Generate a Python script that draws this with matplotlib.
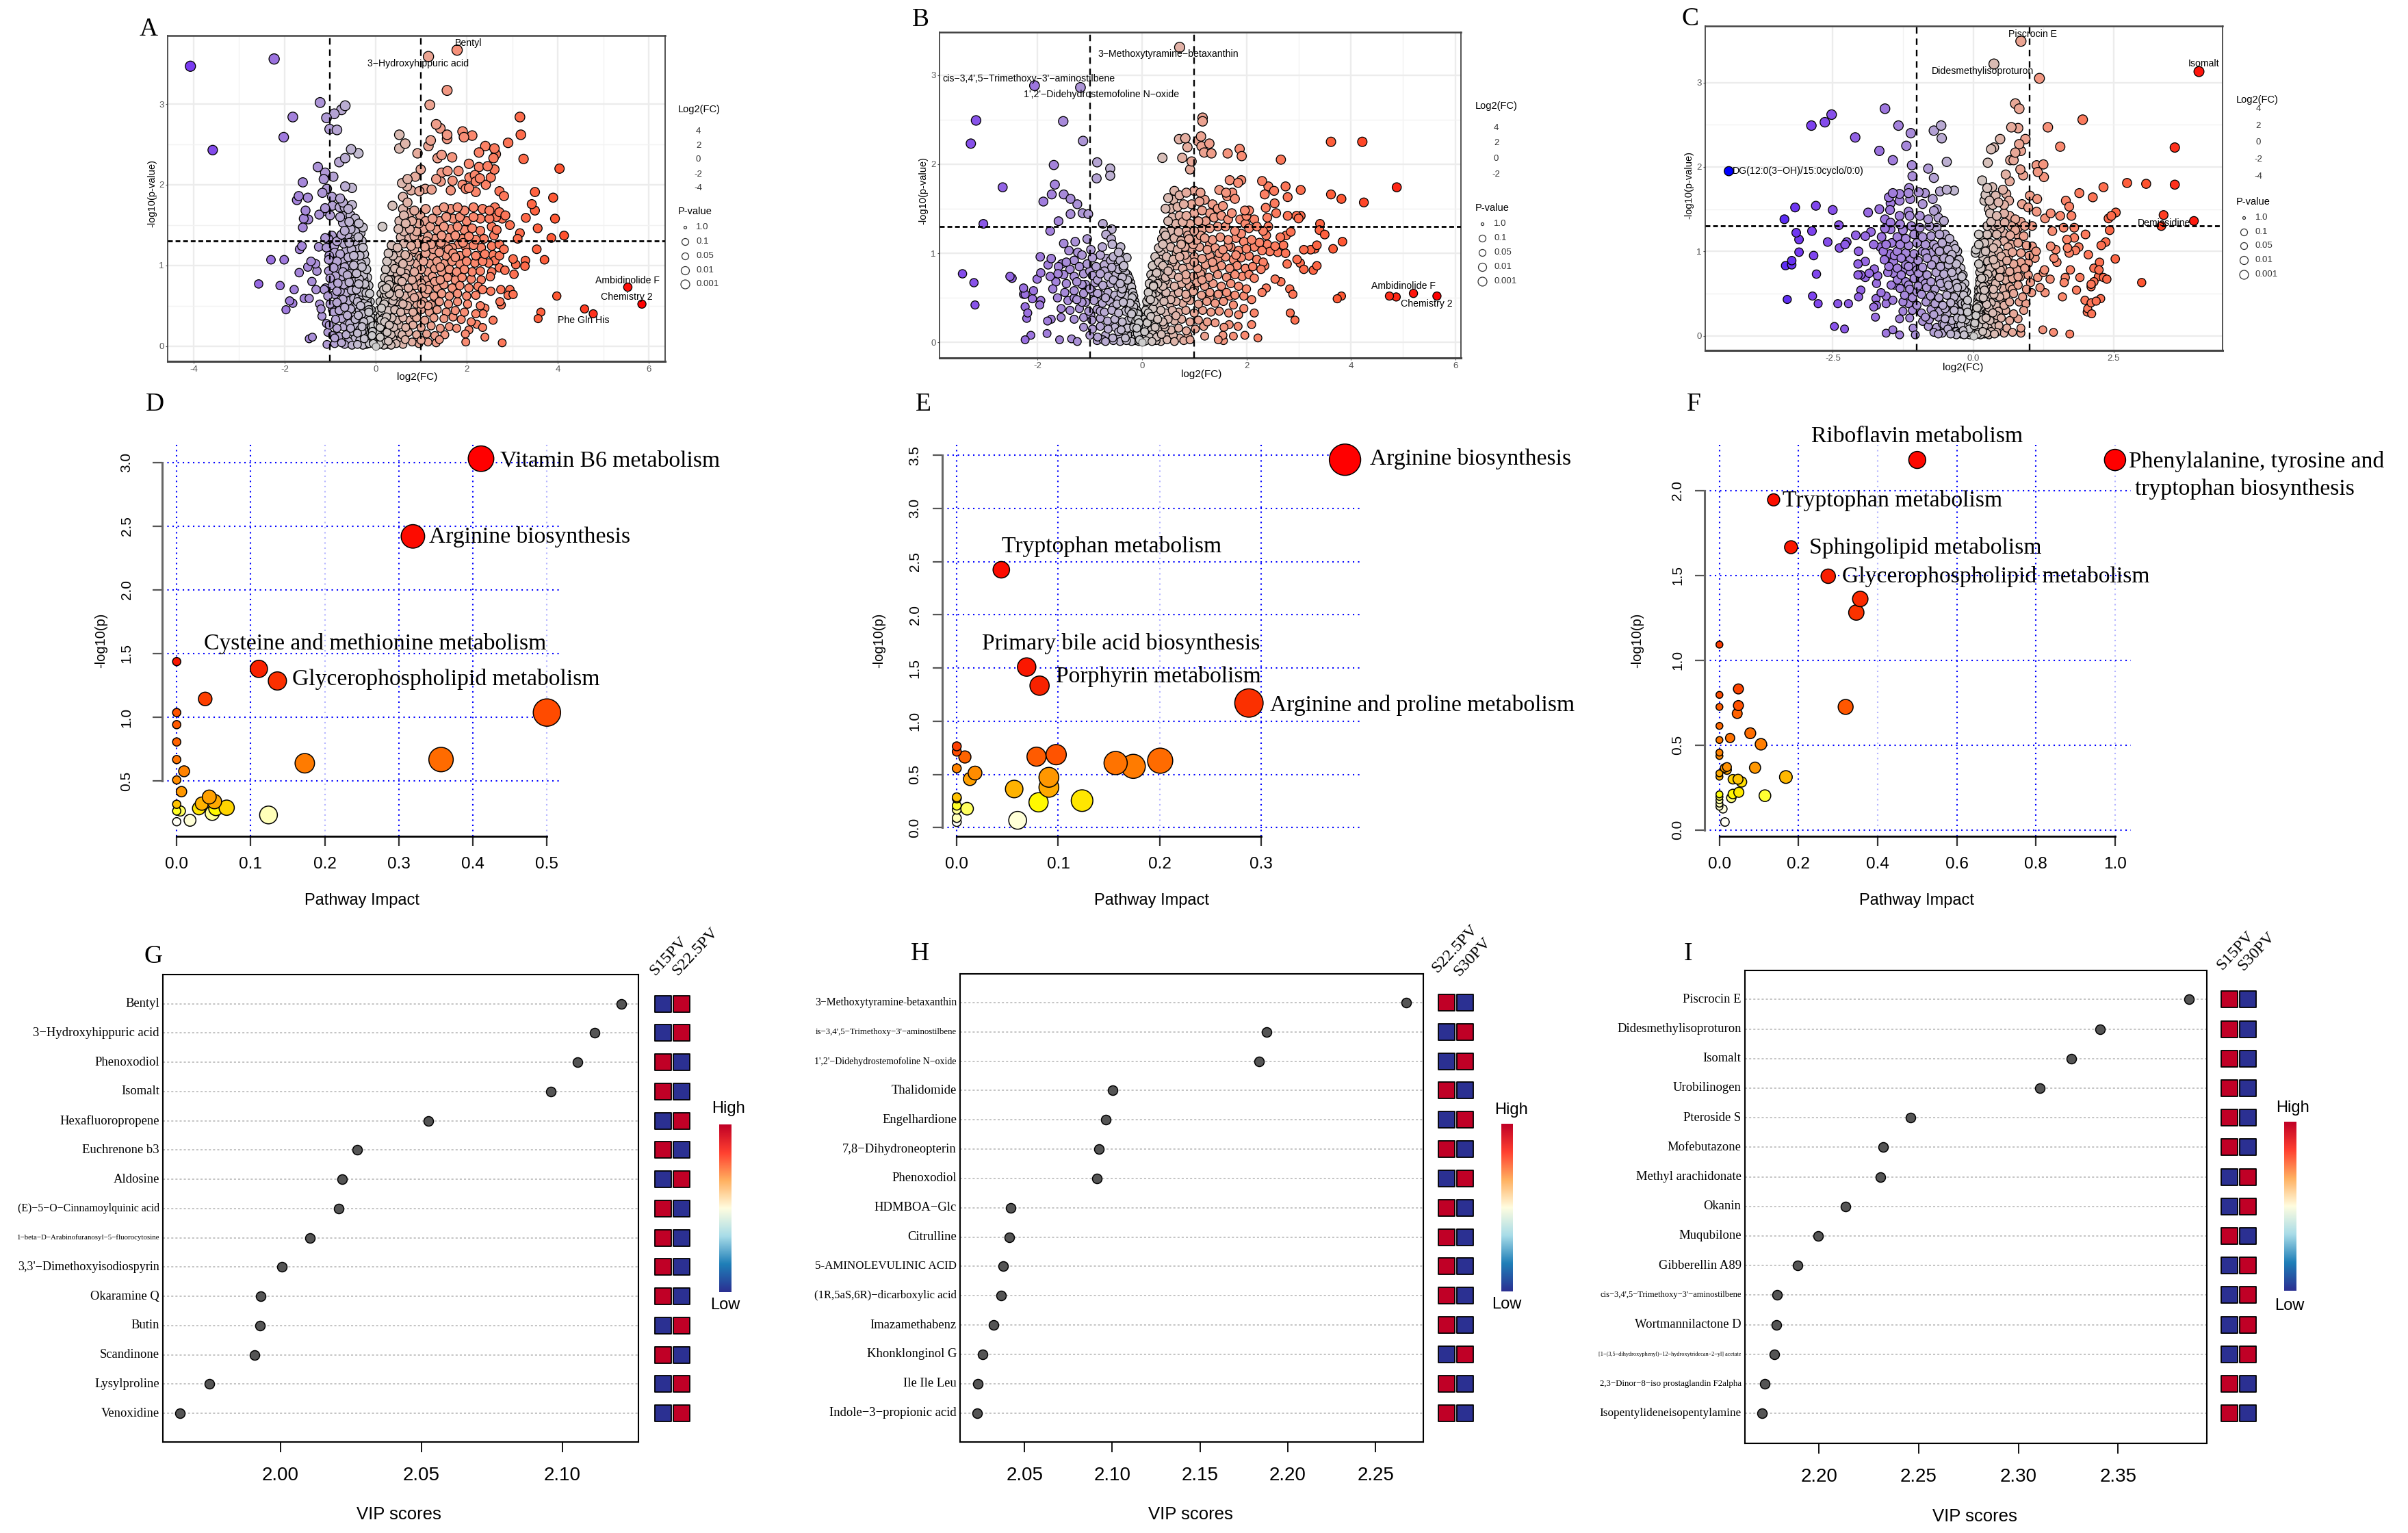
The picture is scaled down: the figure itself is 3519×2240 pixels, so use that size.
import numpy as np
import matplotlib
matplotlib.use('Agg')
import matplotlib.pyplot as plt
from matplotlib.colors import LinearSegmentedColormap

W, H = 3519, 2240
plt.rcParams['axes.unicode_minus'] = False
SERIF = ['Liberation Serif', 'DejaVu Serif']
SANS = ['Liberation Sans', 'DejaVu Sans']
NARROW = SANS

# ---------- volcano values: flat x,y pairs ----------
a_outer = [-4.07,3.47,-2.23,3.56,-3.58,2.43,1.79,3.67,1.16,3.59,1.57,3.17,1.19,2.99,-1.22,3.02,-.67,2.98,-.75,2.93,-.91,2.88,-1.82,2.84,-1.08,2.83,-1.01,2.69,-.85,2.68,-2.02,2.59,-.54,2.44,-.38,2.39,-.67,2.33,-.8,2.28,-1.27,2.22,-1.11,2.15,-.93,2.1,-1.14,2.07,-1.6,2.03,-.67,1.98,-.52,1.96,-1.07,1.95,-1.17,1.9,
3.17,2.84,3.19,2.62,3.25,2.32,4.04,2.2,1.33,2.75,1.42,2.7,1.57,2.62,1.57,2.57,1.91,2.66,1.94,2.59,2.12,2.61,1.21,2.55,1.16,2.48,.52,2.62,.65,2.51,.52,2.45,.92,2.39,2.91,2.52,2.41,2.48,2.61,2.45,2.27,2.4,2.64,2.38,2.59,2.33,1.45,2.37,1.36,2.33,1.68,2.34,2.05,2.26,2.27,2.22,2.46,2.23,2.61,2.19,2.53,2.09,.99,2.19,1.45,2.15,1.58,2.17,1.82,2.17,2.18,2.12,2.06,2.09,2.29,2.08,2.2,2.04,2.42,2.0,1.33,2.07,1.43,2.04,1.69,2.05,1.91,2.0,2.05,1.96,2.2,1.91,.58,2.02,.7,2.07,.87,2.1,.69,1.98,.78,1.93,.96,1.92,1.09,1.95,1.23,1.94,1.65,1.93,1.98,1.95,
2.72,1.92,2.82,1.86,3.5,1.91,3.9,1.84,3.43,1.76,3.5,1.68,3.94,1.58,3.3,1.59,3.56,1.46,3.17,1.4,3.12,1.33,3.86,1.34,4.14,1.37,3.54,1.2,3.71,1.07,3.29,1.06,3.28,.99,3.02,1.08,3.08,1.01,2.84,.94,3.04,.89,2.72,.97,5.54,.73,5.85,.52,3.98,.62,4.59,.46,4.78,.4,3.63,.42,3.57,.34,2.75,.7,2.53,.68,2.95,.7,3.02,.64,2.91,.63,2.73,.55,2.76,.51,2.58,.32,2.35,.23,2.4,.11,2.78,.04,1.98,.05,1.97,.15,
-1.69,1.86,-1.73,1.81,-1.49,1.84,-1.54,1.68,-1.58,1.58,-1.48,1.57,-1.6,1.47,-1.24,1.63,-1.08,1.67,-1,1.62,-1.11,1.71,-.96,1.85,-.95,1.74,-.79,1.72,-1.11,1.34,-.96,1.37,-1.04,1.33,-1.25,1.23,-1.08,1.22,-1.62,1.24,-1.67,1.2,-.91,1.24,-2.3,1.07,-2.01,1.07,-1.42,1.05,-1.32,1.02,-1.49,.98,-1.29,.93,-1.68,.91,-1.4,.8,-2.57,.77,-2.1,.75,-1.79,.7,-1.31,.7,-1.89,.56,-1.82,.53,-1.57,.59,-1.46,.59,-1.97,.45,-1.23,.52,-1.2,.46,-1.18,.37,-1.08,.28,-1.02,.26,-1.05,.17,-1.46,.09,-1.39,.11,-1.07,.02]
a_right = [.6,1.85,.7,1.78,.37,1.74,.6,1.7,.62,1.62,.75,1.65,.85,1.68,.98,1.62,1.1,1.7,1.35,1.68,1.5,1.72,1.65,1.7,1.8,1.72,1.95,1.68,2.15,1.72,2.35,1.7,2.5,1.68,2.62,1.72,2.72,1.66,.52,1.55,.66,1.52,.8,1.55,.95,1.52,1.1,1.55,1.25,1.58,1.4,1.55,1.55,1.6,1.7,1.58,1.85,1.6,2.0,1.55,2.15,1.6,2.3,1.58,2.5,1.58,2.65,1.6,2.85,1.62,2.78,1.58,2.95,1.5,.5,1.45,.15,1.48,.62,1.42,.75,1.45,.9,1.42,1.05,1.45,1.2,1.48,1.35,1.44,1.5,1.48,1.65,1.45,1.8,1.48,1.95,1.44,2.12,1.46,2.3,1.43,2.55,1.48,2.66,1.44,.55,1.35,.7,1.33,.85,1.36,1.0,1.32,1.15,1.36,1.3,1.33,1.45,1.37,1.6,1.34,1.75,1.37,1.9,1.33,2.05,1.36,2.2,1.32,2.38,1.33,2.6,1.37,.35,1.25,.48,1.22,.62,1.27,.78,1.24,.92,1.27,1.08,1.23,1.22,1.26,1.38,1.23,1.52,1.26,1.68,1.22,1.82,1.26,1.98,1.23,2.15,1.25,2.32,1.22,2.55,1.24,2.72,1.26,2.82,1.2,
.28,1.15,.38,1.12,.52,1.16,.65,1.13,.8,1.16,.95,1.12,1.1,1.15,1.25,1.12,1.4,1.16,1.55,1.12,1.7,1.15,1.85,1.12,2.0,1.16,2.2,1.12,2.4,1.14,2.58,1.13,2.72,1.12,.25,1.05,.35,1.02,.48,1.05,.6,1.02,.75,1.05,.9,1.02,1.05,1.05,1.2,1.02,1.35,1.05,1.5,1.02,1.68,1.05,1.85,1.02,2.0,1.05,2.18,1.03,2.35,1.05,2.48,1.03,2.62,1.06,.22,.95,.32,.92,.42,.96,.55,.93,.7,.96,.85,.92,1.0,.95,1.15,.92,1.3,.96,1.45,.92,1.62,.95,1.78,.92,1.95,.95,2.12,.92,2.3,.93,2.55,.92,.2,.85,.28,.82,.38,.85,.5,.82,.65,.85,.8,.82,.95,.85,1.1,.82,1.25,.86,1.42,.82,1.58,.85,1.75,.82,1.9,.85,2.1,.83,2.32,.82,2.52,.86,.15,.75,.24,.72,.34,.75,.45,.72,.58,.75,.72,.72,.88,.75,1.02,.72,1.18,.75,1.35,.72,1.5,.76,1.68,.72,1.85,.75,2.05,.72,2.25,.74,2.35,.7,
.12,.65,.2,.62,.3,.65,.4,.62,.52,.65,.65,.62,.8,.65,.95,.62,1.1,.65,1.28,.62,1.45,.65,1.62,.62,1.8,.65,2.0,.62,2.2,.63,.1,.55,.18,.52,.26,.55,.36,.52,.48,.55,.6,.52,.75,.55,.9,.52,1.05,.55,1.22,.52,1.4,.55,1.6,.52,1.8,.55,2.02,.52,2.3,.5,2.4,.47,.08,.45,.14,.42,.22,.45,.32,.42,.42,.45,.55,.42,.68,.45,.82,.42,1.0,.45,1.18,.42,1.35,.45,1.55,.42,1.75,.44,1.95,.42,2.2,.4,2.36,.4,.06,.35,.12,.32,.18,.35,.26,.32,.36,.35,.48,.32,.6,.35,.75,.32,.9,.35,1.08,.32,1.28,.35,1.5,.34,1.7,.36,1.88,.33,2.1,.3,2.22,.27,.05,.26,.1,.23,.15,.26,.22,.23,.3,.26,.4,.23,.52,.26,.66,.23,.82,.26,1.0,.23,1.22,.25,1.42,.22,1.62,.24,1.78,.22,2.05,.2,.03,.17,.07,.14,.12,.17,.18,.14,.25,.17,.34,.14,.45,.17,.58,.14,.72,.17,.9,.14,1.12,.15,1.3,.13,1.52,.14,1.4,.08,.02,.09,.05,.06,.09,.09,.14,.06,.2,.09,.28,.06,.38,.09,.5,.06,.65,.08,.8,.05,1.0,.07,1.15,.05,1.33,.04,.01,.03,.04,.01,.08,.02,.12,.03,.18,.01,.25,.02,.34,.01,.45,.03,.6,.02,.95,.03,
.04,.12,.06,.2,.08,.3,.1,.37,.13,.47,.16,.58,.18,.7,.06,.1,.1,.16,.14,.24,.19,.34,.24,.4,.28,.5,.33,.6,.38,.7,.43,.8,.48,.9]
a_left = [-.78,1.83,-.72,1.78,-.68,1.72,-.6,1.7,-.52,1.75,-.55,1.62,-.66,1.62,-.78,1.6,-.45,1.58,-.58,1.54,-.72,1.53,-.47,1.5,-.37,1.52,-.28,1.47,-.33,1.4,-.45,1.42,-.55,1.45,-.68,1.43,-.75,1.38,-.62,1.38,-.5,1.36,-.38,1.35,-.3,1.3,-.45,1.3,-.58,1.28,-.7,1.27,-.85,1.3,-.28,1.22,-.4,1.22,-.53,1.2,-.65,1.18,-.78,1.14,-.9,1.16,-1.02,1.12,-.25,1.14,-.35,1.12,-.48,1.12,-.6,1.1,-.72,1.07,-.85,1.05,-.97,1.05,-1.03,1.07,-.22,1.05,-.32,1.02,-.43,1.03,-.55,1.0,-.68,.98,-.8,.96,-.92,.97,-1.03,.93,-.2,.95,-.3,.92,-.4,.93,-.5,.9,-.62,.88,-.75,.86,-.88,.87,-1.0,.84,-.18,.85,-.26,.82,-.36,.83,-.46,.8,-.58,.79,-.7,.76,-.83,.78,-.95,.75,-1.1,.72,-.15,.75,-.23,.72,-.32,.73,-.42,.7,-.53,.69,-.65,.66,-.78,.68,-.9,.64,-1.05,.62,-1.13,.7,-.13,.65,-.2,.62,-.28,.63,-.37,.6,-.48,.59,-.6,.56,-.72,.58,-.85,.54,-1.0,.52,-.12,.55,-.18,.52,-.25,.53,-.33,.5,-.43,.49,-.55,.46,-.68,.48,-.8,.44,-.92,.42,-.1,.45,-.15,.42,-.22,.43,-.3,.4,-.38,.38,-.5,.36,-.62,.38,-.75,.34,-.88,.33,-.08,.35,-.13,.32,-.19,.33,-.26,.3,-.34,.28,-.45,.26,-.57,.28,-.7,.24,-.85,.22,-.06,.25,-.1,.22,-.16,.23,-.22,.2,-.3,.18,-.4,.16,-.52,.18,-.65,.14,-.8,.12,-.95,.13,-.04,.16,-.08,.13,-.13,.14,-.18,.11,-.25,.09,-.35,.07,-.46,.09,-.6,.06,-.75,.04,-.9,.03,-.02,.08,-.05,.05,-.09,.06,-.14,.03,-.2,.02,-.28,.01,-.4,.02,-.52,.01,-.68,.02,-.02,.02]
a_core = [.03,.06,.05,.1,.07,.16,.09,.22,.11,.28,.13,.34,.15,.4,.17,.46,.19,.52,.22,.58,.24,.64,.27,.7,.3,.76,.33,.82,.36,.88,.4,.94,.44,1.0,.5,1.08,.07,.05,.1,.11,.13,.17,.16,.27,.2,.3,.24,.36,.28,.44,.33,.48,.38,.56,.44,.6,.5,.7,.58,.8,.66,.9,.72,1.1,.85,1.2,1.0,1.09,1.12,1.3,1.27,1.2,1.43,1.28,1.6,1.2,1.75,1.1,1.92,1.28,1.42,.98,1.6,.88,1.3,.8,1.15,.7,1.0,.78,.85,.6,.7,.5,.85,.38,1.0,.52,1.15,.5,1.3,.6,-.03,.06,-.05,.11,-.07,.18,-.09,.24,-.11,.3,-.13,.37,-.15,.45,-.17,.5,-.19,.57,-.21,.66,-.24,.77,-.27,.88,-.3,.98,-.05,.03,-.08,.09,-.11,.16,-.14,.2,-.17,.27,-.21,.36,-.24,.47,-.28,.55,-.32,.67,-.37,.77,-.42,.9,-.48,1.0,-.57,.94,-.48,.72,-.4,.55,-.36,.44,-.45,.33,-.3,.24,-.35,.2,-.55,.22,-.65,.32,-.75,.5,-.6,.75,-.72,.92,-.85,.68,-.95,.45,-.9,.1]

b_outer = [.72,3.31,-2.06,2.88,-1.18,2.86,-3.18,2.49,-1.51,2.48,1.16,2.52,1.16,2.48,-3.28,2.23,-1.13,2.26,.71,2.28,.83,2.29,1.13,2.31,1.07,2.26,1.29,2.23,.87,2.19,1.14,2.2,1.19,2.13,1.33,2.12,1.64,2.12,1.87,2.17,1.91,2.09,.39,2.07,.77,2.07,.95,2.03,.92,1.94,2.66,2.05,3.62,2.25,4.22,2.25,-1.69,1.99,-.86,2.02,-.61,1.95,-.61,1.87,-.87,1.84,-2.67,1.74,-1.67,1.77,-1.73,1.66,-1.5,1.66,-1.89,1.58,-1.37,1.61,-1.24,1.55,-1.37,1.44,-1.14,1.45,-1.03,1.44,-1.6,1.36,-.75,1.33,-3.04,1.33,-1.76,1.25,-.58,1.27,-.69,1.21,-.59,1.16,-1.05,1.16,-1.28,1.13,-1.5,1.11,-.76,1.07,-.57,1.1,-.41,1.07,-.98,1.04,-1.4,1.03,-1.23,1.01,-.45,1.01,-1.95,.96,-1.74,.94,-.29,.95,-1.8,.87,-1.54,.88,
-3.44,.77,-3.22,.67,-3.2,.42,-2.53,.74,-2.49,.72,-2.01,.71,-1.94,.78,-2.27,.61,-2.08,.58,-2.27,.54,-2.24,.54,-2.1,.49,-1.94,.47,-1.96,.42,-2.24,.4,-2.19,.33,-2.21,.27,-1.81,.24,-1.74,.26,-2.24,.03,-2.13,.08,-1.82,.1,-1.58,.03,-1.35,.04,-1.24,.01,-1.71,.6,-1.76,.74,-1.61,.77,
4.88,1.74,3.62,1.66,3.82,1.61,4.25,1.57,3.04,1.71,2.75,1.75,2.79,1.63,2.3,1.81,2.42,1.75,2.53,1.7,2.35,1.66,2.54,1.56,2.37,1.51,2.57,1.45,2.4,1.4,2.79,1.42,2.96,1.42,3.04,1.42,3,1.39,3.41,1.33,3.4,1.26,3.5,1.21,3.84,1.13,3.66,1.05,3.35,1.09,3.1,1.04,3.23,1.04,3.31,1.05,2.97,.93,3.03,.89,3.35,.86,3.28,.81,3.1,.82,2.78,.88,2.85,1.24,2.76,1.2,2.65,1.18,2.71,1.09,2.75,1.0,4.74,.52,4.87,.51,5.2,.55,5.65,.52,3.74,.49,3.82,.52,2.55,.71,2.66,.68,2.83,.6,2.89,.54,2.84,.33,2.93,.25,2.38,.61,2.3,.56,2.22,.05,2.1,.2,1.97,.08,1.75,.07,1.55,.08,1.46,.03,1.56,.02,1.84,.18,1.57,.17,1.67,.2,2.15,.33,1.68,.52,1.68,1.82,1.84,1.79,1.9,1.82,1.48,1.71,1.61,1.68,1.73,1.68,1.63,1.64,1.78,1.61,1.97,1.48,2.05,1.48]
b_right = [.62,1.7,.5,1.62,.6,1.6,.72,1.65,.85,1.68,1.0,1.7,1.12,1.68,1.2,1.6,1.1,1.58,.95,1.55,.8,1.55,.68,1.52,.55,1.5,.45,1.5,1.35,1.55,1.45,1.5,1.55,1.53,1.3,1.45,1.15,1.48,1.0,1.45,.85,1.42,.72,1.42,.58,1.4,.5,1.36,.65,1.33,.78,1.35,.92,1.33,1.08,1.36,1.22,1.36,1.38,1.4,1.52,1.42,1.65,1.38,1.72,1.45,1.6,1.3,1.45,1.3,1.3,1.28,1.15,1.27,1.0,1.25,.85,1.25,.7,1.24,.55,1.25,.42,1.24,1.98,1.33,1.88,1.38,2.0,1.42,2.15,1.38,2.05,1.28,2.2,1.3,2.32,1.25,2.38,1.2,2.42,1.3,1.78,1.25,1.9,1.22,
.38,1.16,.5,1.14,.62,1.17,.75,1.14,.9,1.16,1.05,1.15,1.2,1.17,1.35,1.15,1.5,1.18,1.65,1.15,1.8,1.17,1.95,1.13,2.1,1.15,2.25,1.12,2.4,1.1,2.55,1.08,.32,1.06,.42,1.04,.55,1.07,.68,1.04,.82,1.07,.96,1.05,1.1,1.07,1.25,1.04,1.4,1.06,1.55,1.04,1.7,1.07,1.85,1.03,2.0,1.05,2.15,1.07,2.3,1.03,2.45,1.02,2.6,1.01,.25,.96,.35,.93,.47,.96,.6,.93,.72,.96,.86,.93,1.0,.96,1.15,.94,1.3,.97,1.45,.93,1.6,.96,1.75,.93,1.9,.95,2.05,.97,2.2,.93,2.32,.9,.2,.86,.3,.83,.4,.86,.52,.83,.65,.86,.78,.83,.92,.86,1.06,.83,1.22,.87,1.38,.83,1.52,.86,1.68,.83,1.82,.86,1.98,.83,2.12,.85,2.28,.82,2.35,.86,.17,.76,.25,.73,.34,.76,.45,.73,.57,.76,.7,.73,.84,.76,.98,.74,1.12,.77,1.28,.73,1.45,.76,1.62,.73,1.78,.76,1.92,.74,2.05,.76,2.15,.72,
.14,.66,.22,.63,.3,.66,.4,.63,.5,.66,.62,.63,.76,.66,.9,.64,1.05,.67,1.2,.63,1.36,.66,1.52,.63,1.7,.66,1.85,.63,2.0,.6,.12,.56,.19,.53,.27,.56,.36,.53,.46,.56,.58,.53,.7,.56,.84,.54,.98,.57,1.14,.53,1.3,.56,1.46,.54,1.62,.56,1.78,.53,1.95,.52,2.1,.48,.09,.46,.15,.43,.23,.46,.32,.43,.42,.46,.53,.43,.65,.46,.78,.44,.92,.47,1.08,.43,1.24,.46,1.4,.44,1.56,.46,1.75,.42,1.95,.38,.07,.36,.12,.33,.19,.36,.27,.33,.36,.36,.46,.33,.58,.36,.7,.34,.84,.36,1.0,.33,1.16,.36,1.32,.34,1.48,.35,1.66,.33,1.85,.31,.05,.26,.1,.23,.15,.26,.22,.23,.3,.26,.4,.23,.5,.26,.62,.24,.76,.26,.92,.23,1.08,.25,1.25,.23,1.4,.22,.03,.17,.07,.14,.12,.17,.18,.14,.25,.17,.34,.14,.44,.17,.56,.14,.7,.16,.85,.13,1.02,.15,1.18,.18,.02,.09,.05,.06,.09,.09,.14,.06,.2,.09,.28,.06,.37,.09,.48,.06,.6,.08,.72,.05,.88,.08,1.2,.07,.01,.03,.04,.01,.08,.02,.13,.03,.19,.01,.27,.02,.36,.01,.48,.03,.62,.01,.8,.02,.92,.03,
.03,.11,.05,.2,.08,.3,.1,.4,.13,.5,.17,.6,.2,.7,.06,.13,.1,.22]
b_left = [-1.15,.98,-.95,.95,-.8,.98,-.68,.94,-.55,.96,-.42,.92,-1.3,.92,-1.45,.9,-1.6,.85,-1.38,.82,-1.2,.85,-1.05,.88,-.88,.85,-.72,.87,-.58,.84,-.45,.82,-.35,.86,-1.5,.76,-1.3,.74,-1.12,.77,-.95,.75,-.8,.77,-.65,.74,-.5,.76,-.38,.73,-.28,.76,-1.65,.68,-1.45,.66,-1.25,.68,-1.08,.65,-.9,.67,-.75,.64,-.6,.66,-.46,.63,-.33,.65,-.22,.67,-1.48,.56,-1.3,.58,-1.12,.55,-.95,.57,-.8,.54,-.65,.56,-.52,.53,-.4,.55,-.28,.52,-.18,.56,-1.62,.5,-1.42,.47,-1.25,.48,-1.08,.45,-.92,.47,-.76,.44,-.62,.46,-.48,.43,-.36,.45,-.24,.42,-.14,.46,-1.55,.38,-1.38,.36,-1.2,.38,-1.02,.35,-.86,.37,-.72,.34,-.58,.36,-.45,.33,-.32,.35,-.2,.32,-.1,.36,-1.55,.28,-1.3,.26,-1.12,.28,-.96,.25,-.8,.27,-.66,.24,-.52,.26,-.38,.23,-.26,.25,-.16,.22,-.08,.26,-1.12,.17,-.95,.15,-.8,.18,-.65,.15,-.52,.17,-.4,.14,-.28,.16,-.18,.13,-.1,.16,-.05,.18,-1.0,.08,-.85,.06,-.7,.08,-.56,.05,-.44,.07,-.32,.05,-.22,.07,-.14,.04,-.07,.07,-.03,.09,-.86,.02,-.7,.01,-.55,.02,-.42,.01,-.3,.02,-.2,.01,-.12,.02,-.06,.01,-.02,.03,-.03,.02,-.75,.03,-.04,.12,-.06,.22,-.08,.32,-.12,.42,-.16,.52,-.2,.62,-.25,.72,-.07,.14,-.12,.24,-.17,.34,-.23,.44]
b_core = [.03,.05,.05,.12,.07,.18,.09,.26,.11,.33,.13,.41,.16,.48,.19,.56,.22,.64,.25,.7,.28,.78,.32,.9,.36,1.0,.4,1.1,.45,1.2,.06,.07,.09,.15,.13,.2,.17,.29,.21,.38,.26,.43,.31,.51,.36,.6,.44,.69,.5,.8,.58,.9,.66,1.0,.75,1.1,.88,1.2,.82,.98,.98,1.1,1.12,1.2,1.3,1.1,1.48,1.0,1.65,1.08,1.8,.98,1.35,.9,1.15,.8,1.0,.9,.85,.7,.7,.6,.85,.5,1.0,.6,1.15,.7,1.3,.5,.55,.48,.65,.3,.42,.2,.3,.12,-.03,.05,-.05,.12,-.07,.18,-.1,.26,-.13,.34,-.16,.4,-.19,.5,-.22,.58,-.25,.64,-.28,.7,-.32,.78,-.36,.84,-.42,.98,-.05,.03,-.09,.1,-.13,.09,-.16,.17,-.2,.27,-.25,.36,-.3,.44,-.34,.52,-.38,.6,-.42,.66,-.5,.84,-.6,.92,-.72,.8,-.85,.7,-1.0,.8,-.55,.7,-.45,.48,-.55,.4,-.7,.5,-.85,.55,-1.0,.6,-1.15,.65,-1.3,.5,-1.15,.45,-.98,.3,-.8,.35,-.6,.2,-.45,.12,-.3,.1]

c_outer = [.85,3.49,.37,3.22,1.18,3.05,4.02,3.13,.75,2.75,.82,2.69,.68,2.47,.8,2.46,1.33,2.47,1.95,2.56,.48,2.33,.93,2.33,.82,2.27,.37,2.23,.32,2.21,.85,2.19,.75,2.17,1.55,2.24,3.59,2.23,.66,2.08,.72,2.08,.26,2.05,1.25,2.03,1.13,2.02,.84,1.97,1.15,1.94,.89,1.9,.58,1.91,1.26,1.88,.65,1.83,.16,1.84,2.74,1.81,3.08,1.8,3.59,1.79,2.32,1.76,1.89,1.69,2.13,1.64,1.65,1.6,1.71,1.53,1.01,1.66,1.14,1.62,.34,1.76,.25,1.75,.53,1.73,.22,1.67,.59,1.68,.4,1.66,.29,1.6,.64,1.6,.87,1.56,.98,1.52,1.13,1.47,2.54,1.46,2.46,1.42,2.41,1.39,3.39,1.43,3.93,1.36,3.35,1.3,1.38,1.45,1.55,1.42,1.75,1.42,1.28,1.39,1.8,1.28,1.61,1.28,1.41,1.24,2.43,1.25,2,1.2,1.67,1.14,1.8,1.16,2.36,1.11,2.28,1.07,2.53,.91,2.05,.96,1.88,1.05,1.68,1.04,1.82,1.01,1.71,.98,1.38,1.06,1.47,1.02,1.44,.92,1.49,.87,2.25,.87,2.15,.8,2.24,.78,2.23,.7,1.73,.78,1.27,.78,1.25,.75,1.37,.67,1.15,.69,1.64,.69,1.9,.69,2.38,.67,2.32,.69,2.15,.64,2.1,.61,2.1,.58,1.62,.63,3,.63,1.84,.54,1.19,.57,1.28,.51,1.04,.51,1.02,.63,1.59,.46,2.27,.44,2.19,.41,1.99,.42,2.1,.39,2.04,.32,2.03,.28,2.11,.26,1.24,.07,1.43,.04,1.72,.02,
-4.35,1.95,-2.52,2.62,-2.64,2.53,-2.88,2.49,-1.57,2.69,-1.33,2.49,-1.11,2.4,-.57,2.49,-.7,2.43,-.56,2.34,-2.1,2.35,-1.19,2.25,-1.67,2.19,-1.43,2.08,-1.09,2.02,-.47,2.06,-.8,1.98,-1.08,1.89,-.7,1.87,-1.14,1.75,-1.43,1.69,-1.5,1.64,-1.31,1.68,-1.15,1.69,-.97,1.7,-.86,1.69,-.59,1.71,-.47,1.73,-.34,1.72,-.72,1.62,-.9,1.56,-1.31,1.6,-1.12,1.62,-1.47,1.57,-1.48,1.49,-1.67,1.5,-1.87,1.46,-3.17,1.52,-2.8,1.54,-2.5,1.49,-3.36,1.38,-2.39,1.31,-1.15,1.47,-1.31,1.42,-1.13,1.42,-1.57,1.38,-1.47,1.34,-1.3,1.32,-1.57,1.27,-1.47,1.26,-1.82,1.23,-2.09,1.19,-3.15,1.22,-2.87,1.24,-3.1,1.14,-1.63,1.17,-1.92,1.18,-2.59,1.11,-2.25,1.11,-2.28,1.08,-2.38,1.04,-3.1,.99,-2.84,.95,-2.04,1,-1.77,1.08,-1.65,1.05,-3.23,.89,-3.23,.84,-3.34,.83,-2.79,.73,-1.92,.88,-2.05,.85,-2.05,.72,-2,.72,-1.85,.74,-1.76,.79,-1.92,.69,-1.7,.71,-1.72,.62,-1.52,.75,-1.46,.6,-2,.54,-2.04,.46,-1.64,.51,-1.73,.44,-1.55,.47,-3.31,.43,-2.86,.47,-2.76,.38,-2.41,.38,-2.22,.38,-1.43,.42,-1.55,.38,-1.77,.34,-1.72,.36,-1.74,.22,-2.47,.11,-2.29,.08,-1.55,.03,-1.43,.07,-1.31,.01,-1.03,.01,-1.07,.09,-1.31,.2,-1.25,.29,-1.13,.21]
c_left = [-.95,1.42,-.8,1.38,-.62,1.4,-.65,1.5,-.7,1.48,-.78,1.3,-.95,1.28,-1.1,1.3,-1.25,1.25,-.65,1.28,-.52,1.36,-.6,1.2,-.75,1.18,-.9,1.17,-1.05,1.2,-1.2,1.15,-1.35,1.17,-.5,1.2,-.42,1.15,-.55,1.1,-.7,1.08,-.85,1.08,-1.0,1.1,-1.15,1.07,-1.3,1.08,-1.45,1.1,-1.6,1.0,-1.55,1.08,-.35,1.08,-.45,1.02,-.6,1.0,-.75,.98,-.9,1.0,-1.05,.97,-1.2,.98,-1.35,1.0,-1.48,.97,-.28,1.0,-.38,.96,-.52,.92,-.68,.9,-.82,.92,-.98,.89,-1.12,.9,-1.28,.92,-1.42,.88,-1.58,.9,-.25,.9,-.3,.85,-.44,.84,-.58,.82,-.74,.84,-.9,.81,-1.05,.82,-1.2,.84,-1.35,.8,-1.5,.82,-.22,.8,-.28,.76,-.38,.75,-.52,.73,-.66,.75,-.82,.72,-.97,.74,-1.12,.76,-1.28,.72,-1.42,.74,-.18,.72,-.24,.68,-.33,.66,-.46,.65,-.6,.67,-.75,.64,-.9,.66,-1.05,.68,-1.2,.64,-1.35,.66,-.15,.62,-.2,.58,-.28,.57,-.4,.56,-.54,.58,-.68,.55,-.83,.57,-.98,.59,-1.13,.55,-1.3,.56,-.12,.52,-.17,.48,-.24,.47,-.34,.46,-.47,.48,-.61,.45,-.76,.47,-.92,.49,-1.08,.45,-1.22,.48,-.1,.42,-.14,.38,-.2,.38,-.29,.37,-.4,.39,-.54,.36,-.68,.38,-.84,.4,-1.0,.36,-1.15,.38,-.08,.33,-.12,.29,-.17,.28,-.24,.28,-.34,.3,-.46,.27,-.6,.29,-.75,.31,-.92,.27,-.06,.24,-.09,.2,-.13,.19,-.2,.2,-.28,.21,-.38,.18,-.5,.2,-.62,.22,-.78,.19,-.9,.17,-.04,.15,-.07,.12,-.1,.11,-.15,.12,-.22,.13,-.3,.1,-.4,.12,-.52,.13,-.65,.1,-.8,.11,-.02,.08,-.05,.05,-.08,.04,-.12,.05,-.18,.06,-.25,.03,-.33,.05,-.43,.06,-.55,.03,-.7,.04,-.02,.02,-.06,.01,-.1,.02,-.16,.01,-.22,.02,-.3,.01,-.4,.02,-.62,.02,-.28,.92,-.32,1.03]
c_right = [.2,1.6,.28,1.5,.35,1.55,.45,1.58,.55,1.55,.3,1.45,.42,1.42,.55,1.45,.65,1.42,.75,1.38,.85,1.35,.32,1.35,.44,1.32,.56,1.34,.68,1.3,.8,1.28,.92,1.3,1.05,1.3,.25,1.3,.3,1.22,.42,1.2,.54,1.22,.66,1.19,.78,1.2,.9,1.18,.1,1.2,.16,1.18,.05,1.02,.1,1.08,.2,1.1,.3,1.1,.42,1.09,.55,1.12,.68,1.08,.8,1.1,.95,1.07,1.05,1.06,1.12,1.0,.04,.98,.12,.98,.22,1.0,.33,.98,.45,1.0,.58,.97,.7,.99,.85,.98,1.0,.95,1.1,.92,.18,.92,.26,.88,.36,.9,.48,.87,.6,.89,.72,.85,.85,.87,.98,.86,.16,.8,.24,.78,.32,.8,.42,.77,.53,.79,.65,.76,.78,.78,.92,.8,.14,.72,.2,.68,.28,.7,.37,.67,.47,.69,.58,.66,.7,.68,.84,.7,.98,.72,.12,.62,.18,.58,.25,.6,.33,.57,.42,.59,.53,.56,.65,.58,.8,.6,.95,.55,.1,.52,.15,.48,.21,.5,.28,.47,.37,.49,.47,.46,.58,.48,.72,.5,.88,.46,.08,.42,.12,.38,.18,.4,.24,.37,.32,.39,.41,.36,.52,.38,.65,.4,.82,.4,.94,.38,.07,.33,.1,.29,.15,.31,.2,.28,.27,.3,.35,.27,.45,.29,.58,.3,.72,.26,.9,.3,.05,.24,.08,.2,.12,.22,.17,.19,.23,.21,.3,.18,.38,.2,.5,.21,.65,.18,.8,.2,.03,.15,.06,.12,.1,.13,.14,.1,.2,.12,.27,.09,.35,.11,.46,.12,.6,.09,.85,.09,.02,.08,.04,.05,.08,.06,.12,.04,.17,.05,.24,.03,.32,.05,.42,.04,.55,.03,.7,.04,.85,.03,.01,.02,.04,.01,.08,.02,.13,.01,.2,.02,.28,.01,.38,.02,.1,.85,.12,.75,.15,.68,.18,.78,.22,.7,.2,.62,.14,.55,.18,.45,.12,.46,.1,.35,.3,.72,.32,.66,.28,.62,.34,.74,.3,.55,.26,.52,.22,.42,.18,.32,.14,.24]
c_core = [.02,.12,.03,.2,.05,.28,.07,.37,.09,.46,.1,.56,.12,.66,.14,.8,.08,.05,.06,.09,.1,.17,.12,.26,.14,.34,.16,.43,.17,.52,.2,.54,.23,.64,.26,.73,.3,.8,.24,.46,.28,.33,.32,.44,.36,.55,.4,.62,.4,.84,.48,.78,.36,1.04,.5,.94,.62,.93,.62,.72,.7,.55,.8,.7,.55,.36,.42,.24,.62,1.05,.75,1.25,.48,1.27,.38,1.3,.25,1.2,-.03,.06,-.05,.1,-.06,.16,-.08,.22,-.1,.28,-.12,.34,-.14,.44,-.16,.54,-.18,.62,-.2,.7,-.04,.03,-.07,.08,-.1,.14,-.13,.23,-.16,.3,-.19,.34,-.22,.42,-.25,.52,-.3,.62,-.34,.7,-.37,.8,-.42,.9,-.5,.78,-.58,.62,-.44,.6,-.42,.5,-.38,.44,-.34,.34,-.5,.32,-.6,.4,-.72,.48,-.85,.62,-1.0,.78,-1.15,.82,-.85,.98,-.65,1.04,-1.0,.52,-1.15,.6,-1.08,.3,-.85,.22,-.7,.25,-.55,.14,-.45,.08,-.3,.05,-.48,1.1,-1.4,.95,-1.25,.78,-1.4,.6,-1.25,.4]

# ---------- pathway values ----------
d_impact = [.411,.319,.111,.136,.0385,0,0,0,0,0,.5,.357,.173,.01,0,.0065,.044,.051,.034,0,.0675,.053,.03,0,.005,.048,.124,.018,0]
d_logp = [3.03,2.42,1.38,1.285,1.144,1.437,1.037,.942,.806,.668,1.037,.668,.639,.576,.508,.416,.374,.338,.322,.317,.29,.285,.285,.264,.264,.246,.233,.191,.18]
e_impact = [.3827,.0439,.0689,.0816,.288,0,0,.008,0,.018,.013,.0786,.098,.1566,.174,.2005,.0908,.0908,.0566,.0806,.1235,0,0,0,0,.0102,0,0,.06]
e_logp = [3.457,2.423,1.509,1.334,1.171,.764,.714,.664,.557,.513,.457,.667,.686,.607,.576,.629,.473,.379,.363,.238,.254,.285,.275,.207,.169,.178,.091,.053,.069]
f_impact = [1,.5,.137,.181,.275,.356,.346,0,.048,0,.048,0,.319,.045,0,.078,.027,0,.105,0,0,.09,.019,.013,.019,0,0,.168,.034,.047,.056,.049,.034,.115,.03,0,0,0,0,0,.009,.014]
f_logp = [2.18,2.18,1.945,1.666,1.495,1.361,1.281,1.092,.831,.796,.733,.725,.725,.686,.613,.57,.542,.53,.505,.456,.436,.367,.371,.365,.354,.334,.314,.312,.299,.299,.283,.222,.212,.202,.189,.21,.195,.175,.155,.137,.124,.047]

# ---------- VIP values ----------
g_names = ["Bentyl","3−Hydroxyhippuric acid","Phenoxodiol","Isomalt","Hexafluoropropene","Euchrenone b3","Aldosine","(E)−5−O−Cinnamoylquinic acid","1−beta−D−Arabinofuranosyl−5−fluorocytosine","3,3'−Dimethoxyisodiospyrin","Okaramine Q","Butin","Scandinone","Lysylproline","Venoxidine"]
g_vip = [2.1208,2.1113,2.1054,2.0958,2.0524,2.0272,2.022,2.0207,2.0106,2.0007,1.993,1.9928,1.991,1.975,1.9644]
g_first = [0,0,1,1,0,1,0,1,1,1,1,0,1,0,0]
h_names = ["3−Methoxytyramine-betaxanthin","is−3,4',5−Trimethoxy−3'−aminostilbene","1',2'−Didehydrostemofoline N−oxide","Thalidomide","Engelhardione","7,8−Dihydroneopterin","Phenoxodiol","HDMBOA−Glc","Citrulline","5-AMINOLEVULINIC ACID","(1R,5aS,6R)−dicarboxylic acid","Imazamethabenz","Khonklonginol G","Ile Ile Leu","Indole−3−propionic acid"]
h_vip = [2.2673,2.1878,2.1838,2.1002,2.0965,2.0923,2.0913,2.042,2.0415,2.038,2.0368,2.0323,2.026,2.0235,2.023]
h_first = [1,0,0,1,0,1,0,1,1,1,1,1,0,1,1]
i_names = ["Piscrocin E","Didesmethylisoproturon","Isomalt","Urobilinogen","Pteroside S","Mofebutazone","Methyl arachidonate","Okanin","Muqubilone","Gibberellin A89","cis−3,4',5−Trimethoxy−3'−aminostilbene","Wortmannilactone D","[1−(3,5−dihydroxyphenyl)−12−hydroxytridecan−2−yl] acetate","2,3−Dinor−8−iso prostaglandin F2alpha","Isopentylideneisopentylamine"]
i_vip = [2.3856,2.3408,2.3265,2.3108,2.246,2.2322,2.2307,2.2133,2.1995,2.1891,2.179,2.1787,2.1777,2.1729,2.1714]
i_first = [1,1,1,1,1,1,0,0,1,0,0,0,0,1,1]

# ---------- styles ----------
neg_cm = LinearSegmentedColormap.from_list('n', [(0,'#cccccc'),(.2,'#ad96d6'),(.4,'#9a6fe0'),(.7,'#7a3cf0'),(1,'#0000ff')])
pos_cm = LinearSegmentedColormap.from_list('p', [(0,'#cccccc'),(.17,'#e8a898'),(.35,'#fa8a70'),(.7,'#ff5530'),(1,'#ff0000')])
heat_cm = LinearSegmentedColormap.from_list('h', [(0,'#fffff5'),(.1,'#ffffa0'),(.2,'#ffff00'),(.35,'#ffb400'),(.55,'#ff8000'),(.8,'#ff4800'),(.9,'#f82000'),(1,'#ff0000')])
bar_cm = LinearSegmentedColormap.from_list('b', ['#2b3092','#1f7fb8','#a8dce8','#fffde0','#ffb060','#ff4030','#c00026'])

fig = plt.figure(figsize=(W/100, H/100), dpi=100, facecolor='white')
def axpx(x0, y0, x1, y1, **kw):
    return fig.add_axes([x0/W, 1-y1/H, (x1-x0)/W, (y1-y0)/H], **kw)
ov = fig.add_axes([0,0,1,1], zorder=50, facecolor='none')
ov.set_xlim(0,W); ov.set_ylim(H,0); ov.axis('off')
def T(x, y, s, size, fam=NARROW, ha='left', va='center', **kw):
    return ov.text(x, y, s, fontsize=size, family=fam, ha=ha, va=va, **kw)
def px2s(d):
    return (d*0.72)**2

def volcano(rect, parts, xlim, ylim, xt, yt, letter, labels, xl, yl, leg):
    ax = axpx(*rect)
    ax.set_xlim(*xlim); ax.set_ylim(*ylim)
    pts = np.concatenate([np.asarray(p, float) for p in parts])
    x, y = pts[0::2], pts[1::2]
    # draw order only: mixed, as in the source, not shingled along rows
    o = np.argsort((x*37.13 + y*91.77) % 1.0)
    x, y = x[o], y[o]
    m = np.abs(x).max()
    cols = [pos_cm(v/m) if v >= 0 else neg_cm(-v/m) for v in x]
    ax.set_axisbelow(True)
    xm = [(a+b)/2 for a,b in zip(xt[:-1],xt[1:])]
    ym = [(a+b)/2 for a,b in zip(yt[:-1],yt[1:])]
    ax.set_xticks(xm, minor=True); ax.set_yticks(ym, minor=True)
    ax.grid(which='major', color='#ececec', lw=1.7)
    ax.grid(which='minor', color='#f2f2f2', lw=1.0)
    ax.tick_params(which='minor', length=0)
    ax.scatter(x, y, s=px2s(11.5+1.0*y), c=cols, edgecolors='black', linewidths=0.95, zorder=3)
    ax.scatter([0], [0], s=px2s(11), c='#cccccc', edgecolors='#333333', linewidths=0.6, zorder=3.5)
    for v in (-1, 1):
        ax.axvline(v, color='black', ls=(0,(4,3)), lw=1.7, zorder=4)
    ax.axhline(1.3, color='black', ls=(0,(2.5,1.5)), lw=2.0, zorder=4)
    ax.set_xticks(xt); ax.set_yticks(yt)
    ax.set_xticklabels([str(v) for v in xt], family=NARROW, fontsize=9.5, color='#555555')
    ax.set_yticklabels([str(v) for v in yt], family=NARROW, fontsize=9.5, color='#555555')
    ax.tick_params(colors='#555555', length=2.5, width=0.8, pad=1.5)
    for s in ax.spines.values():
        s.set_color('#444444'); s.set_linewidth(1.3)
    ax.spines['bottom'].set_linewidth(2.2); ax.spines['top'].set_linewidth(1.8)
    T(letter[1], letter[2], letter[0], 27, SERIF, ha='center')
    for tx, ty, s in labels:
        T(tx, ty, s, 10.2)
    T(xl[0], xl[1], 'log2(FC)', 11, ha='center')
    T(yl[0], yl[1], '-log10(p-value)', 10.5, SANS, ha='center', rotation=90)
    lx, fc_y, fc_vals, fc_num_x, pv_y, cx, cy, lab_x = leg
    T(lx, fc_y[0], 'Log2(FC)', 10.5)
    for v, yy in zip(fc_vals, fc_y[1:]):
        T(fc_num_x, yy, str(v), 9.5, ha='center', color='#333333')
    T(lx, pv_y, 'P-value', 10.5)
    for lab, yy, d in zip(['1.0','0.1','0.05','0.01','0.001'], cy, [4,10,10,12,13]):
        ov.scatter([cx],[yy], s=px2s(d), facecolors='white', edgecolors='#333333', linewidths=0.9)
        T(lab_x, yy, lab, 9.5, color='#333333')
    return ax

volcano((245,52,972,528), [a_outer,a_right,a_left,a_core], (-4.57,6.36), (-.19,3.85), [-4,-2,0,2,4,6], [0,1,2,3], ('A',217,43),
        [(665,63.5,'Bentyl'),(537,93,'3−Hydroxyhippuric acid'),(870,410,'Ambidinolide F'),(878,434,'Chemistry 2'),(815,468,'Phe Gln His')],
        (610,551), (222,283),
        (991,[160,192,213,233,255,275],[4,2,0,-2,-4],1020.5,309,1000.6,[332,353,374,394.5,415],1017))
volcano((1373,47,2135,523), [b_outer,b_right,b_left,b_core], (-3.88,6.11), (-.174,3.48), [-2,0,2,4,6], [0,1,2,3], ('B',1345,29),
        [(1605,78.6,'3−Methoxytyramine−betaxanthin'),(1377,115,"cis−3,4',5−Trimethoxy−3'−aminostilbene"),(1495.5,138,"1',2'−Didehydrostemofoline N−oxide"),(2004,418.5,'Ambidinolide F'),(2047,444,'Chemistry 2')],
        (1756,547), (1349,278),
        (2156,[155,187,209,232,255],[4,2,0,-2],2186.5,304,2166,[327,348,369,390,411],2183))
volcano((2492,38,3248,512), [c_outer,c_left,c_right,c_core], (-4.77,4.44), (-.174,3.67), [-2.5,0.0,2.5], [0,1,2,3], ('C',2470,28),
        [(2935,49.5,'Piscrocin E'),(2823,104,'Didesmethylisoproturon'),(3198,93,'Isomalt'),(2532,250,'DG(12:0(3−OH)/15:0cyclo/0:0)'),(3124,326,'Demissidine')],
        (2869,537), (2468,271),
        (3268,[146,159,184,208,233,258],[4,2,0,-2,-4],3300,295,3279,[318,339,359,380,401],3296))

def pathway(rect, impact, logp, xlim, ylim, xt, yt, light, d0, k, letter, notes, xlab, ylab, xt_y, yt_x):
    ax = axpx(*rect)
    ax.set_xlim(*xlim); ax.set_ylim(*ylim)
    ax.patch.set_alpha(0)
    for v in xt:
        ax.axvline(v, color='#b4b4ff' if v in light else '#0000ff', ls=(0,(1,2.6)), lw=1.5, zorder=1)
    for v in yt:
        ax.axhline(v, color='#0000ff', ls=(0,(1,2.6)), lw=1.5, zorder=1)
    x = np.asarray(impact); y = np.asarray(logp)
    r = np.argsort(np.argsort(y))/(len(y)-1)
    o = np.argsort(y)
    sizes = d0 + k*np.sqrt(x)
    ax.scatter(x[o], y[o], s=px2s(sizes[o]), c=heat_cm(r[o]), edgecolors='black', linewidths=1.1, zorder=3, clip_on=False)
    for n in ('top','right'):
        ax.spines[n].set_visible(False)
    ax.spines['left'].set_bounds(yt[0], yt[-1]); ax.spines['left'].set_color('#666666'); ax.spines['left'].set_linewidth(2.2)
    ax.spines['bottom'].set_bounds(xt[0], xt[-1]); ax.spines['bottom'].set_linewidth(2.0)
    ax.set_xticks(xt); ax.set_yticks(yt)
    ax.set_xticklabels([]); ax.set_yticklabels([])
    ax.tick_params(axis='x', length=10, width=1.6, color='#333333')
    ax.tick_params(axis='y', length=10, width=1.6, color='#555555')
    for v in xt:
        px_x = rect[0] + (v-xlim[0])/(xlim[1]-xlim[0])*(rect[2]-rect[0])
        T(px_x, xt_y, f'{v:.1f}', 17.5, ha='center')
    for v in yt:
        px_y = rect[3] - (v-ylim[0])/(ylim[1]-ylim[0])*(rect[3]-rect[1])
        T(yt_x, px_y, f'{v:.1f}', 15, SANS, ha='center', rotation=90)
    T(letter[1], letter[2], letter[0], 27, SERIF, ha='center')
    for tx, ty, s in notes:
        T(tx, ty, s, 24.2, SERIF)
    T(xlab[0], xlab[1], 'Pathway Impact', 17, ha='center')
    T(ylab[0], ylab[1], '-log10(p)', 14.5, SANS, ha='center', rotation=90)

pathway((237,649,822,1222), d_impact, d_logp, (-.0196,.521), (.0654,3.144), [0,.1,.2,.3,.4,.5], [.5,1,1.5,2,2.5,3], [.2,.5], 12, 39.6, ('D',226,591),
        [(731,673,'Vitamin B6 metabolism'),(627,785,'Arginine biosynthesis'),(298,940,'Cysteine and methionine metabolism'),(427,992,'Glycerophospholipid metabolism')],
        (529,1316),(148,936),1263,185)
pathway((1377,649,1989,1222), e_impact, e_logp, (-.0143,.3985), (-.0814,3.603), [0,.1,.2,.3], [0,.5,1,1.5,2,2.5,3,3.5], [.2], 13, 53, ('E',1349,591),
        [(2002,670,'Arginine biosynthesis'),(1464,799,'Tryptophan metabolism'),(1435,940,'Primary bile acid biosynthesis'),(1543,988,'Porphyrin metabolism'),(1855.5,1031,'Arginine and proline metabolism')],
        (1683,1316),(1285,936),1263,1337)
pathway((2491,650,3114,1222), f_impact, f_logp, (-.0376,1.04), (-.0373,2.269), [0,.2,.4,.6,.8,1.0], [0,.5,1,1.5,2], [.4,1.0], 10, 21, ('F',2475,591),
        [(2647,638,'Riboflavin metabolism'),(3110.6,674,'Phenylalanine, tyrosine and'),(3119.6,714.5,'tryptophan biosynthesis'),(2605,731.5,'Tryptophan metabolism'),(2644.5,800,'Sphingolipid metabolism'),(2692,842,'Glycerophospholipid metabolism')],
        (2801,1316),(2393,936),1263,2452)

renderer = fig.canvas.get_renderer()
def vip(rect, names, vals, first, xlim, xt, row0, rowh, hx, letter, collab, bar, hi, lo, xlab, tick_y):
    ax = axpx(*rect)
    top = (rect[1]-row0)/rowh
    bot = (rect[3]-row0)/rowh
    ax.set_xlim(*xlim); ax.set_ylim(bot, top)
    ys = np.arange(len(vals))
    for y in ys:
        ax.axhline(y, color='#b4b4b4', ls=(0,(2,2)), lw=1.1, zorder=1)
    ax.scatter(vals, ys, s=px2s(14), c='#555555', edgecolors='black', linewidths=1.1, zorder=3)
    ax.set_yticks([])
    ax.set_xticks(xt)
    ax.set_xticklabels([])
    ax.tick_params(axis='x', length=11, width=1.3)
    for s in ax.spines.values():
        s.set_linewidth(1.5)
    for v in xt:
        px_x = rect[0] + (v-xlim[0])/(xlim[1]-xlim[0])*(rect[2]-rect[0])
        T(px_x, tick_y, f'{v:.2f}', 20, SANS, ha='center')
    T(xlab[0], xlab[1], 'VIP scores', 18.5, SANS, ha='center')
    for y, name in zip(ys, names):
        t = T(rect[0]-5, row0+y*rowh, name, 13.4, SERIF, ha='right')
        w = t.get_window_extent(renderer).width
        if w > 208:
            t.set_fontsize(13.4*208/w)
    hax = axpx(hx[0]-20, rect[1], hx[1]+20, rect[3], facecolor='none')
    span = hx[1]-hx[0]
    hax.set_xlim(-20/span, 1+20/span); hax.set_ylim(bot, top); hax.axis('off')
    f = np.asarray(first, float)
    hax.scatter(np.zeros_like(f), ys, marker='s', s=px2s(24), c=bar_cm(f), edgecolors='black', linewidths=1.3)
    hax.scatter(np.ones_like(f), ys, marker='s', s=px2s(24), c=bar_cm(1-f), edgecolors='black', linewidths=1.3)
    for (cx, cy, s) in collab:
        T(cx, cy, s, 17.5, SERIF, ha='left', va='bottom', rotation=47, rotation_mode='anchor')
    bax = axpx(*bar)
    bax.imshow(np.linspace(1,0,256)[:,None], aspect='auto', cmap=bar_cm, extent=(0,1,0,1))
    bax.axis('off')
    T(hi[0], hi[1], 'High', 17, SANS, ha='center')
    T(lo[0], lo[1], 'Low', 17, SANS, ha='center')
    T(letter[1], letter[2], letter[0], 27, SERIF, ha='center')

vip((238,1424,933,2107), g_names, g_vip, g_first, (1.9584,2.1269), [2.0,2.05,2.1], 1466.6, 42.75, (968.5,996), ('G',224,1398),
    [(961,1429,'S15PV'),(994,1429,'S22.5PV')], (1051,1643,1069,1888), (1064,1620), (1060,1907), (583,2213), 2156)
vip((1403,1423,2079.5,2107), h_names, h_vip, h_first, (2.0133,2.277), [2.05,2.1,2.15,2.2,2.25], 1465, 42.83, (2113.8,2141), ('H',1344,1394),
    [(2104.5,1425,'S22.5PV'),(2136.5,1430,'S30PV')], (2194,1642,2211,1887), (2208,1622), (2202,1906), (1740,2213), 2156)
vip((2549.6,1417.5,3224.5,2109), i_names, i_vip, i_first, (2.1627,2.3943), [2.2,2.25,2.3,2.35], 1460.4, 43.2, (3258,3285), ('I',2467,1394),
    [(3251,1421,'S15PV'),(3282,1422,'S30PV')], (3338,1639,3355,1886), (3351,1619), (3346,1908), (2886,2216), 2158)

fig.savefig('out.png', dpi=100, facecolor='white')
